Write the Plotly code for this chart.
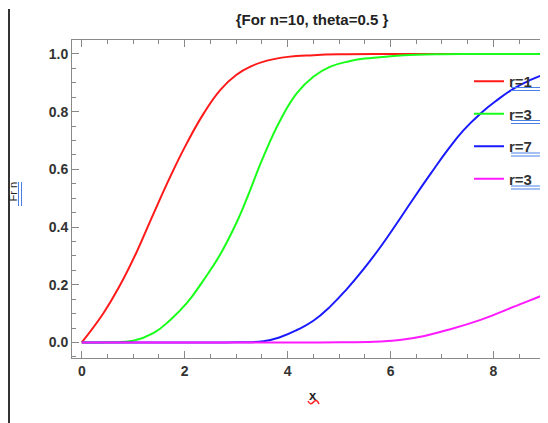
import plotly.graph_objects as go

# ---- data ----
r1_x = [0, 0.42, 0.745, 1.07, 1.39, 1.72, 2.04, 2.37, 2.69, 3.0, 3.3, 3.6, 4.0, 4.5, 5.0, 6.0, 7.0, 8.0, 9.1]
r1_y = [0, 0.101, 0.199, 0.315, 0.445, 0.575, 0.69, 0.794, 0.875, 0.927, 0.958, 0.977, 0.99, 0.996, 0.999, 1, 1, 1, 1]

r3_x = [0, 0.5, 1.0, 1.39, 1.72, 2.04, 2.37, 2.69, 3.02, 3.21, 3.53, 3.86, 4.18, 4.5, 4.83, 5.2, 5.5, 6.0, 6.5, 7.0, 8.0, 9.1]
r3_y = [0, 0.0005, 0.006, 0.032, 0.078, 0.136, 0.217, 0.305, 0.42, 0.5, 0.644, 0.771, 0.864, 0.921, 0.956, 0.975, 0.984, 0.992, 0.997, 0.999, 1, 1]

r7_x = [0, 2.0, 3.0, 3.53, 3.85, 4.18, 4.5, 4.83, 5.15, 5.48, 5.8, 6.13, 6.45, 6.78, 7.1, 7.42, 7.75, 8.07, 8.4, 8.72, 9.05, 9.1]
r7_y = [0, 0, 0.0005, 0.004, 0.018, 0.043, 0.075, 0.125, 0.185, 0.255, 0.33, 0.415, 0.5, 0.585, 0.665, 0.736, 0.794, 0.84, 0.881, 0.91, 0.933, 0.936]

r9_x = [0, 4.0, 5.0, 5.8, 6.45, 7.1, 7.75, 8.4, 9.05, 9.1]
r9_y = [0, 0, 0.0005, 0.003, 0.015, 0.043, 0.078, 0.124, 0.17, 0.174]

series_names = ["r=1", "r=3", "r=7", "r=3"]
series_x = [r1_x, r3_x, r7_x, r9_x]
series_y = [r1_y, r3_y, r7_y, r9_y]
series_colors = ["#ff1a1a", "#1aff1a", "#1a1aff", "#ff1aff"]

title_text = "{For n=10, theta=0.5 }"
x_title = "x"
y_title = "Fr n"
x_ticks = [0, 2, 4, 6, 8]
y_ticks = [0.0, 0.2, 0.4, 0.6, 0.8, 1.0]

# ---- layout geometry ----
# the page body has an 8px margin, so the figure is drawn 8px right / down.
OFF = 8
W, H = 548 - OFF, 423 - OFF
L, R, T, B = 72 - OFF, 0, 40 - OFF, 423 - 358
plot_w = W - L - R
plot_h = H - T - B


def sx(px):
    """screen pixel x -> paper x"""
    return (px - OFF - L) / plot_w


def sy(py):
    """screen pixel y -> paper y"""
    return (H - B - (py - OFF)) / plot_h


fig = go.Figure()
for i, (name, xs, ys, col) in enumerate(zip(series_names, series_x, series_y, series_colors)):
    fig.add_trace(go.Scatter(
        x=xs, y=ys, mode="lines", name=name,
        line=dict(color=col, width=2, shape="spline", smoothing=1.3),
        legendgroup=f"g{i}",
    ))

axis_font = dict(family="Liberation Sans, Arial", size=14, color="#333333", weight="bold")

fig.update_layout(
    width=W, height=H,
    margin=dict(l=L, r=R, t=T, b=B, autoexpand=False),
    paper_bgcolor="white", plot_bgcolor="white",
    showlegend=True,
    legend=dict(
        x=sx(469), y=sy(65), xanchor="left", yanchor="top",
        bgcolor="rgba(0,0,0,0)", borderwidth=0,
        font=dict(family="Liberation Sans, Arial", size=15, color="#333333", weight="bold"),
        tracegroupgap=10, traceorder="grouped",
    ),
    title=dict(
        text=title_text, x=(312 - OFF) / W, xanchor="center", y=1 - (20 - OFF) / H, yanchor="middle",
        font=dict(family="Liberation Sans, Arial", size=15, color="#222222", weight="bold"),
    ),
    xaxis=dict(
        range=[-0.19, 9.06], tickvals=x_ticks, ticks="inside", ticklen=7, tickcolor="#888888",
        showline=True, linecolor="#8a8a8a", linewidth=1, mirror="ticks",
        showgrid=False, zeroline=False, tickfont=axis_font,
        minor=dict(dtick=0.5, ticks="inside", ticklen=4, tickcolor="#888888", showgrid=False),
    ),
    yaxis=dict(
        range=[-0.054, 1.0485], tickvals=y_ticks, tickformat=".1f", ticks="inside", ticklen=7,
        tickcolor="#888888", showline=True, linecolor="#8a8a8a", linewidth=1, mirror=False,
        showgrid=False, zeroline=False, tickfont=axis_font,
        minor=dict(dtick=0.05, ticks="inside", ticklen=4, tickcolor="#888888", showgrid=False),
    ),
)

# axis titles as annotations
fig.add_annotation(
    text=x_title, xref="paper", yref="paper", x=sx(313), y=sy(395),
    xanchor="center", yanchor="middle",
    showarrow=False, font=dict(family="Liberation Sans, Arial", size=13, color="#222222", weight="bold"),
)
fig.add_annotation(
    text=y_title, xref="paper", yref="paper", x=sx(12.5), y=sy(192),
    xanchor="center", yanchor="middle",
    showarrow=False, textangle=-90,
    font=dict(family="Liberation Sans, Arial", size=11, color="#222222"),
)


def hline(x0, x1, y, color, width=1):
    fig.add_shape(type="line", xref="paper", yref="paper",
                  x0=sx(x0), x1=sx(x1), y0=sy(y), y1=sy(y),
                  line=dict(color=color, width=width))


def vline(x, y0, y1, color, width=1):
    fig.add_shape(type="line", xref="paper", yref="paper",
                  x0=sx(x), x1=sx(x), y0=sy(y0), y1=sy(y1),
                  line=dict(color=color, width=width))


ul_blue = "#4a80e6"
# blue double underline beside the y title
vline(18.5, 182, 206, ul_blue)
vline(21.5, 182, 206, ul_blue)
# blue double underlines under the legend labels
for cy in [81, 114, 146.5, 179.5]:
    hline(511, 541, cy + 6.5, ul_blue)
    hline(511, 541, cy + 9.5, ul_blue)

# red spell-check squiggle under the x title
pts = [(308, 401), (310.5, 406), (313.5, 402), (316.5, 398), (319, 404)]
path = "M {:.5f},{:.5f} Q {:.5f},{:.5f} {:.5f},{:.5f} Q {:.5f},{:.5f} {:.5f},{:.5f}".format(
    *[v for p in pts for v in (sx(p[0]), sy(p[1]))])
fig.add_shape(type="path", xref="paper", yref="paper", path=path,
              line=dict(color="#ff2020", width=1.5))

# left notebook ruler decoration (only the part inside the figure is visible)
vline(9, 9, 423, "#333333", 2)

fig.write_html("out.html")
